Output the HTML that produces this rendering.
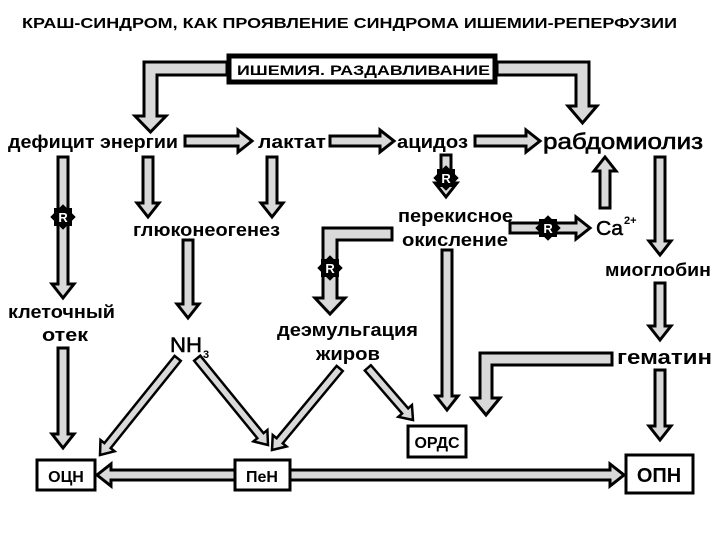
<!DOCTYPE html>
<html><head><meta charset="utf-8"><style>
body{margin:0;background:#fff}
svg{display:block}
text{font-family:"Liberation Sans",sans-serif;font-weight:bold;fill:#000}
.a{fill:#d9d9d9;stroke:#000;stroke-width:3;stroke-linejoin:miter}
.d{fill:#d9d9d9;stroke:#000;stroke-width:2.5}
</style></head><body>
<svg width="720" height="540" viewBox="0 0 720 540">
<defs>
<g id="R"><rect x="-9" y="-9" width="18" height="18" fill="#000"/><rect x="-9" y="-9" width="18" height="18" fill="#000" transform="rotate(45)"/><text x="0" y="5" font-size="13" text-anchor="middle" style="fill:#fff">R</text></g>
</defs>
<text x="22" y="28" font-size="15" textLength="655" lengthAdjust="spacingAndGlyphs">КРАШ-СИНДРОМ, КАК ПРОЯВЛЕНИЕ СИНДРОМА ИШЕМИИ-РЕПЕРФУЗИИ</text>
<rect x="229" y="56" width="266" height="26" fill="#fff" stroke="#000" stroke-width="5"/>
<text x="237" y="75" font-size="14" textLength="253" lengthAdjust="spacingAndGlyphs">ИШЕМИЯ. РАЗДАВЛИВАНИЕ</text>

<polygon class="a" points="227,62 144,62 144,116 135,116 150.5,132 166,116 157,116 157,75 227,75"/>
<polygon class="a" points="497,62 589,62 589,106 597,106 582.5,123 568,106 576,106 576,75 497,75"/>
<polygon class="a" points="392,228 323,228 323,298 315,298 330,314 345,298 337,298 337,240 392,240"/>
<polygon class="a" points="612,353 480,353 480,398 472,398 486,415 500,398 492,398 492,365 612,365"/>

<g class="a">
<polygon transform="translate(252,141)" points="-67,-5 -14,-5 -14,-11 0,0 -14,11 -14,5 -67,5"/>
<polygon transform="translate(394,141)" points="-64,-5 -14,-5 -14,-11 0,0 -14,11 -14,5 -64,5"/>
<polygon transform="translate(540,141)" points="-65,-5 -14,-5 -14,-11 0,0 -14,11 -14,5 -65,5"/>
<polygon transform="translate(63,298) rotate(90)" points="-141,-5 -14,-5 -14,-11 0,0 -14,11 -14,5 -141,5"/>
<polygon transform="translate(148,217) rotate(90)" points="-60,-5 -14,-5 -14,-11 0,0 -14,11 -14,5 -60,5"/>
<polygon transform="translate(272,217) rotate(90)" points="-60,-5 -14,-5 -14,-11 0,0 -14,11 -14,5 -60,5"/>
<polygon transform="translate(188,318) rotate(90)" points="-78,-5 -14,-5 -14,-11 0,0 -14,11 -14,5 -78,5"/>
<polygon transform="translate(446,197) rotate(90)" points="-42,-5 -14,-5 -14,-11 0,0 -14,11 -14,5 -42,5"/>
<polygon transform="translate(590,228)" points="-80,-5 -14,-5 -14,-11 0,0 -14,11 -14,5 -80,5"/>
<polygon transform="translate(605,157) rotate(-90)" points="-51,-5 -14,-5 -14,-11 0,0 -14,11 -14,5 -51,5"/>
<polygon transform="translate(660,255) rotate(90)" points="-98,-5 -14,-5 -14,-11 0,0 -14,11 -14,5 -98,5"/>
<polygon transform="translate(660,340) rotate(90)" points="-57,-5 -14,-5 -14,-11 0,0 -14,11 -14,5 -57,5"/>
<polygon transform="translate(447,410) rotate(90)" points="-160,-5 -14,-5 -14,-11 0,0 -14,11 -14,5 -160,5"/>
<polygon transform="translate(660,440) rotate(90)" points="-70,-5 -14,-5 -14,-11 0,0 -14,11 -14,5 -70,5"/>
<polygon transform="translate(63,448) rotate(90)" points="-100,-5 -14,-5 -14,-11 0,0 -14,11 -14,5 -100,5"/>
<polygon transform="translate(97,475) rotate(180)" points="-138,-5 -14,-5 -14,-11 0,0 -14,11 -14,5 -138,5"/>
<polygon transform="translate(624,475)" points="-334,-5 -14,-5 -14,-11 0,0 -14,11 -14,5 -334,5"/>
</g>
<g class="d">
<polygon transform="translate(100,455) rotate(128.8)" points="-124,-4 -12,-4 -12,-9 0,0 -12,9 -12,4 -124,4"/>
<polygon transform="translate(268,445) rotate(50.8)" points="-112,-4 -12,-4 -12,-9 0,0 -12,9 -12,4 -112,4"/>
<polygon transform="translate(272,450) rotate(129.7)" points="-106,-4 -12,-4 -12,-9 0,0 -12,9 -12,4 -106,4"/>
<polygon transform="translate(413,420) rotate(49.1)" points="-69,-4 -12,-4 -12,-9 0,0 -12,9 -12,4 -69,4"/>
</g>

<use href="#R" x="63" y="217"/>
<use href="#R" x="446" y="178"/>
<use href="#R" x="330" y="268"/>
<use href="#R" x="548" y="228"/>

<text x="8" y="148" font-size="18" textLength="170" lengthAdjust="spacingAndGlyphs">дефицит энергии</text>
<text x="258" y="148" font-size="18" textLength="68" lengthAdjust="spacingAndGlyphs">лактат</text>
<text x="397" y="148" font-size="18" textLength="71" lengthAdjust="spacingAndGlyphs">ацидоз</text>
<text x="543" y="149" font-size="22" style="font-weight:normal;stroke:#000;stroke-width:0.6" textLength="160" lengthAdjust="spacingAndGlyphs">рабдомиолиз</text>
<text x="133" y="236" font-size="18" textLength="147" lengthAdjust="spacingAndGlyphs">глюконеогенез</text>
<text x="398" y="222" font-size="18" textLength="115" lengthAdjust="spacingAndGlyphs">перекисное</text>
<text x="402" y="246" font-size="18" textLength="106" lengthAdjust="spacingAndGlyphs">окисление</text>
<text x="596" y="235" font-size="20" style="font-weight:normal;stroke:#000;stroke-width:0.5" textLength="27" lengthAdjust="spacingAndGlyphs">Ca</text>
<text x="624" y="224" font-size="11">2+</text>
<text x="605" y="276" font-size="18" textLength="106" lengthAdjust="spacingAndGlyphs">миоглобин</text>
<text x="617" y="364" font-size="20" textLength="95" lengthAdjust="spacingAndGlyphs">гематин</text>
<text x="8" y="318" font-size="18" textLength="107" lengthAdjust="spacingAndGlyphs">клеточный</text>
<text x="42" y="341" font-size="18" textLength="46" lengthAdjust="spacingAndGlyphs">отек</text>
<text x="170" y="352" font-size="21" style="font-weight:normal;stroke:#000;stroke-width:0.5" textLength="32" lengthAdjust="spacingAndGlyphs">NH</text>
<text x="203" y="358" font-size="11">3</text>
<text x="277" y="336" font-size="18" textLength="141" lengthAdjust="spacingAndGlyphs">деэмульгация</text>
<text x="316" y="360" font-size="18" textLength="64" lengthAdjust="spacingAndGlyphs">жиров</text>

<rect x="408" y="426" width="58" height="31" fill="#fff" stroke="#000" stroke-width="3"/>
<text x="437" y="448" font-size="16" text-anchor="middle">ОРДС</text>
<rect x="37" y="460" width="58" height="30" fill="#fff" stroke="#000" stroke-width="3"/>
<text x="66" y="482" font-size="16" text-anchor="middle">ОЦН</text>
<rect x="235" y="460" width="55" height="30" fill="#fff" stroke="#000" stroke-width="3"/>
<text x="262" y="482" font-size="16" text-anchor="middle">ПеН</text>
<rect x="626" y="455" width="67" height="38" fill="#fff" stroke="#000" stroke-width="3"/>
<text x="659" y="482" font-size="20" text-anchor="middle">ОПН</text>
</svg>
</body></html>
